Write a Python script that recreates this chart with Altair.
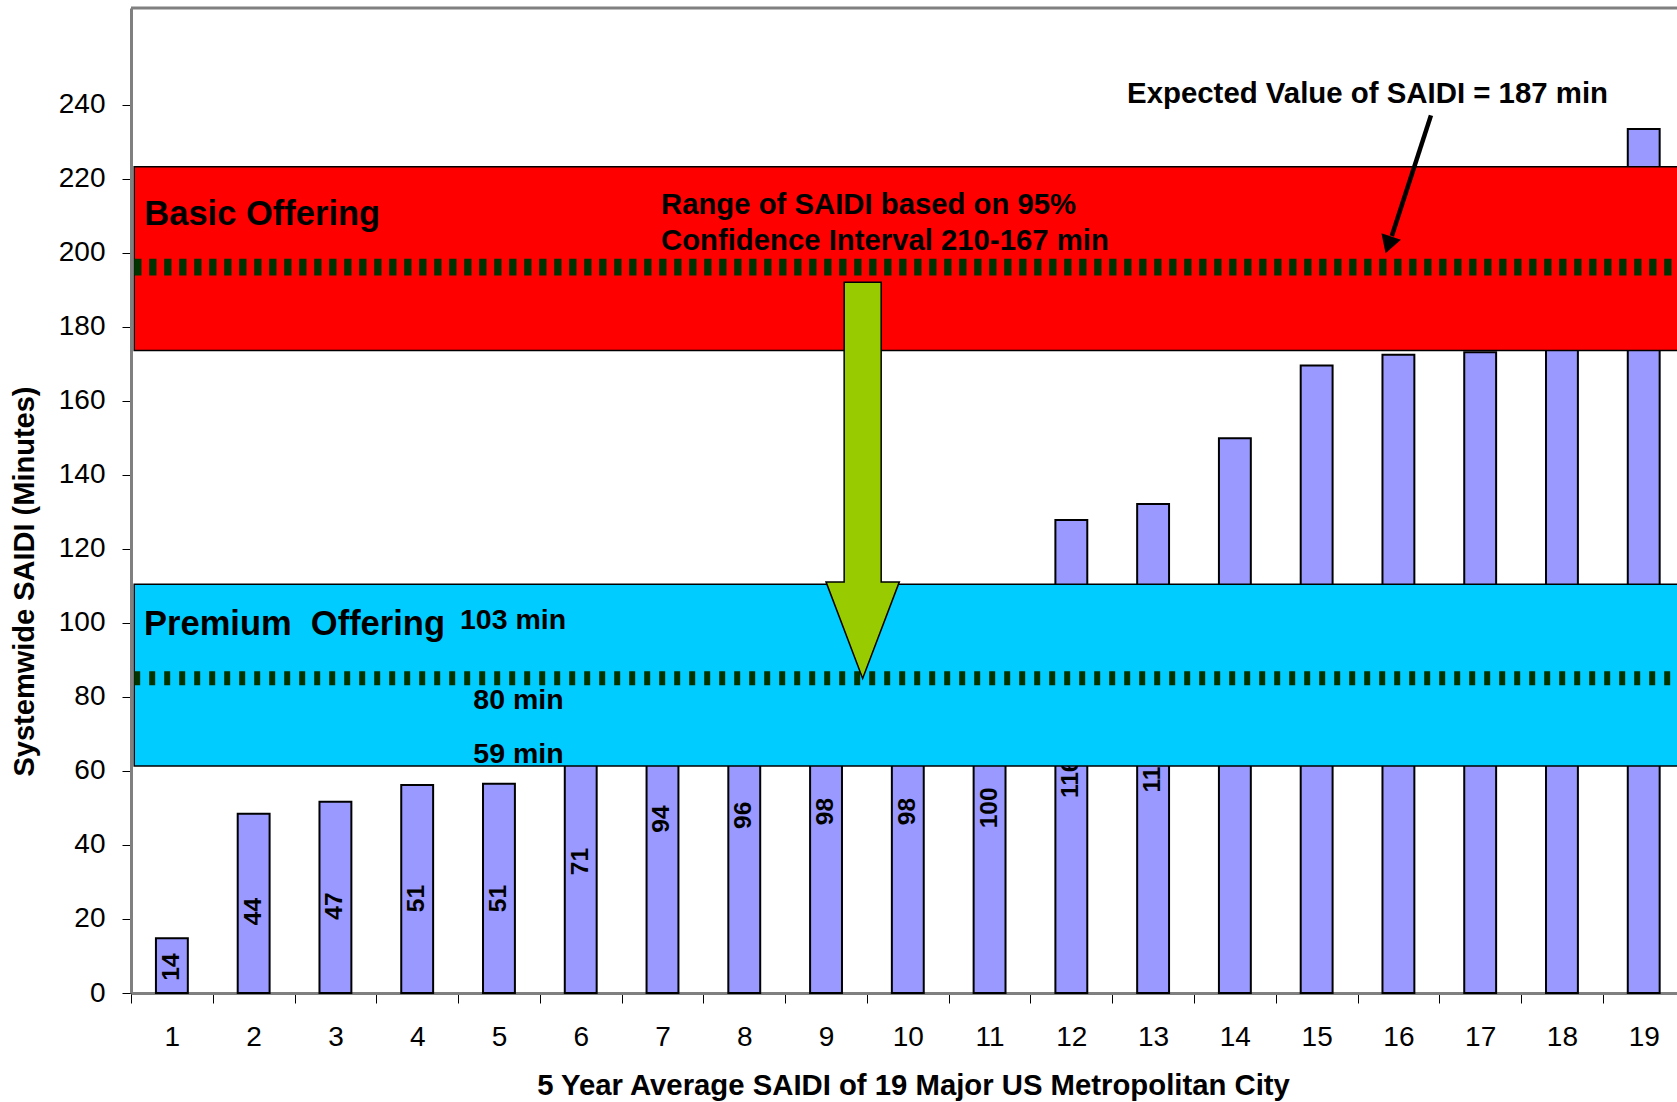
import altair as alt
import pandas as pd

# ---------------- data ----------------
cities = list(range(1, 20))
saidi_minutes = [14.8, 48.4, 51.7, 56.2, 56.5, 71, 94, 96, 98, 98, 100,
                 127.8, 132.1, 149.9, 169.5, 172.4, 173.1, 190, 233.4]
bar_labels = ["14", "44", "47", "51", "51", "71", "94", "96", "98", "98", "100",
              "116", "119", "", "", "", "", "", ""]
y_tick_values = list(range(0, 241, 20))

# annotation bands / reference lines (minutes on the y axis)
basic_band = [173.6, 223.2]
premium_band = [61.3, 110.4]
basic_line = [196.1]
premium_line = [85.0]

# annotation text anchors (x in city units, y in minutes)
band_title_text = ["Basic Offering", "Premium\u00a0 Offering"]
band_title_x = [0.663, 0.659]
band_title_y = [207.5, 96.7]

range_text = ["Range of SAIDI based on 95%", "Confidence Interval 210-167 min"]
range_x = [6.982, 6.982]
range_y = [210.5, 200.8]

premium_text = ["103 min", "80 min", "59 min"]
premium_x = [4.523, 4.686, 4.686]
premium_y = [98.3, 76.6, 62.2]

expected_text = ["Expected Value of SAIDI = 187 min"]
expected_x = [12.681]
expected_y = [240.5]

# arrows
green_arrow_x = [9.448]
green_arrow_y = [138.5]
pointer_from = [16.398, 237.1]
pointer_to = [15.919, 204.5]
pointer_head = [15.877, 202.1]

FONT = "Liberation Sans"
X_DOMAIN = [0.5, 19.407]
Y_DOMAIN = [0, 266.1]
BAND_X = [0.539, 19.6]

xs = alt.Scale(domain=X_DOMAIN, nice=False, zero=False)
ys = alt.Scale(domain=Y_DOMAIN, nice=False, zero=False)

bars_df = pd.DataFrame({"city": cities, "saidi": saidi_minutes, "label": bar_labels})

x_axis = alt.Axis(
    values=[k / 2 for k in range(1, 39)],
    labelExpr="datum.value % 1 === 0 ? format(datum.value, 'd') : ''",
    tickOpacity={"condition": {"test": "datum.value % 1 !== 0", "value": 1}, "value": 0},
    tickSize=10, tickColor="black", tickWidth=1,
    labelFontSize=28, labelFont=FONT, labelColor="black",
    labelBaseline="middle", labelPadding=34, labelOverlap=False, labelFlush=False,
    domainColor="#808080", domainWidth=3, grid=False,
    title="5 Year Average SAIDI of 19 Major US Metropolitan City",
    titleFont=FONT, titleFontSize=29.3, titleFontWeight="bold", titleColor="black",
    titleX=782, titleY=92, titleAlign="center", titleBaseline="middle",
)
y_axis = alt.Axis(
    values=y_tick_values, tickSize=9, tickColor="black", tickWidth=1,
    labelFontSize=28, labelFont=FONT, labelColor="black", labelPadding=17,
    domainColor="#808080", domainWidth=3, grid=False,
    title="Systemwide SAIDI (Minutes)",
    titleFont=FONT, titleFontSize=29, titleFontWeight="bold", titleColor="black",
    titleAngle=270, titleX=-107, titleY=573, titleAlign="center", titleBaseline="middle",
)


def X(field):
    return alt.X(field, scale=xs, axis=x_axis)


def Y(field):
    return alt.Y(field, scale=ys, axis=y_axis)


bars = alt.Chart(bars_df).transform_calculate(
    x0="datum.city - 0.195", x1="datum.city + 0.195"
).mark_rect(fill="#9999FF", stroke="black", strokeWidth=2).encode(
    x=X("x0:Q"), x2="x1:Q", y=Y("saidi:Q"), y2=alt.datum(0),
)

bar_text = alt.Chart(bars_df).transform_filter("datum.label !== ''").transform_calculate(
    lx="datum.city", ly="toNumber(datum.label) / 2"
).mark_text(angle=270, font=FONT, fontSize=24.5, fontWeight="bold", color="black",
            align="center", baseline="middle").encode(
    x=X("lx:Q"), y=Y("ly:Q"), text="label:N",
)

frame_top = alt.Chart(pd.DataFrame({"k": [0]})).mark_rule(
    color="#808080", strokeWidth=3).encode(y=alt.value(0))


def band(lo_hi, color):
    d = pd.DataFrame({"x0": [BAND_X[0]], "x1": [BAND_X[1]], "y0": [lo_hi[0]], "y1": [lo_hi[1]]})
    return alt.Chart(d).mark_rect(fill=color, stroke="black", strokeWidth=1.5, clip=True).encode(
        x=X("x0:Q"), x2="x1:Q", y=Y("y0:Q"), y2="y1:Q")


def dash_line(yv, dash, width):
    d = pd.DataFrame({"x0": [BAND_X[0]], "x1": [BAND_X[1]], "y0": yv})
    return alt.Chart(d).mark_rule(color="#003300", strokeWidth=width, strokeDash=dash,
                                  clip=True).encode(
        x=X("x0:Q"), x2="x1:Q", y=Y("y0:Q"))


def texts(t, xv, yv, size):
    d = pd.DataFrame({"t": t, "x0": xv, "y0": yv})
    return alt.Chart(d).mark_text(font=FONT, fontSize=size, fontWeight="bold", color="black",
                                  align="left", baseline="alphabetic").encode(
        x=X("x0:Q"), y=Y("y0:Q"), text="t:N")


red_band = band(basic_band, "#FF0000")
cyan_band = band(premium_band, "#00CCFF")
red_line = dash_line(basic_line, [7.3, 7.7], 16.7)
cyan_line = dash_line(premium_line, [6, 9], 14)

t_titles = texts(band_title_text, band_title_x, band_title_y, 34.5)
t_range = texts(range_text, range_x, range_y, 29.3)
t_prem = texts(premium_text, premium_x, premium_y, 28.5)
t_exp = texts(expected_text, expected_x, expected_y, 29.4)

ARROW_PATH = ("M -0.0934 -1 L 0.0934 -1 L 0.0934 0.5125 L 0.185 0.5125 "
              "L 0 1 L -0.185 0.5125 L -0.0934 0.5125 Z")
green_arrow = alt.Chart(pd.DataFrame({"x0": green_arrow_x, "y0": green_arrow_y})).mark_point(
    shape=ARROW_PATH, size=157054, filled=True, fill="#99CC00", stroke="black",
    strokeWidth=1.5, opacity=1, fillOpacity=1, strokeOpacity=1).encode(
    x=X("x0:Q"), y=Y("y0:Q"))

ptr_df = pd.DataFrame({"x0": [pointer_from[0]], "y0": [pointer_from[1]],
                       "x1": [pointer_to[0]], "y1": [pointer_to[1]]})
pointer_line = alt.Chart(ptr_df).mark_rule(color="black", strokeWidth=4.5).encode(
    x=X("x0:Q"), y=Y("y0:Q"), x2="x1:Q", y2="y1:Q")
pointer_head_mark = alt.Chart(pd.DataFrame({"x0": [pointer_head[0]], "y0": [pointer_head[1]]})).mark_point(
    shape="triangle-down", size=420, angle=18.4, filled=True, fill="black", opacity=1,
    strokeOpacity=0).encode(x=X("x0:Q"), y=Y("y0:Q"))

chart = alt.layer(
    bars, bar_text, red_band, cyan_band, red_line, cyan_line, frame_top,
    t_titles, t_range, t_prem, green_arrow, pointer_line, pointer_head_mark, t_exp,
).properties(
    width=1546, height=985,
    autosize=alt.AutoSizeParams(type="none"),
    padding={"left": 131, "top": 8, "right": 0, "bottom": 109},
    background="white",
).configure_view(stroke=None).configure(font=FONT)

chart.save("out.html", embed_options={"renderer": "svg", "actions": False})
